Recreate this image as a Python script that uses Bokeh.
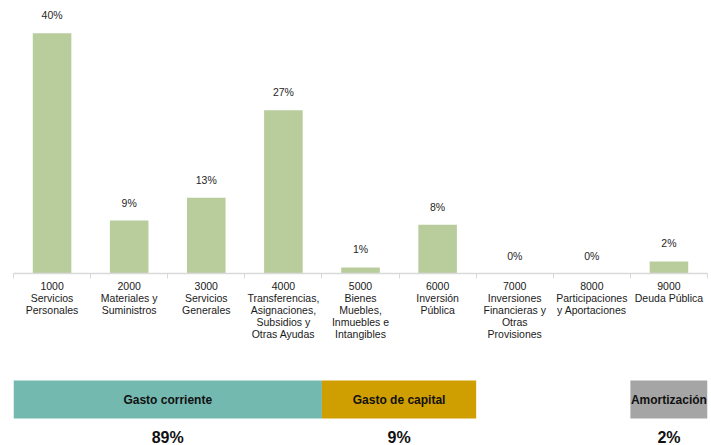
from bokeh.plotting import figure
from bokeh.layouts import column
from bokeh.models import Range1d, FixedTicker, ColumnDataSource
from bokeh.core.properties import value
from bokeh.embed import file_html
from bokeh.resources import INLINE

# ---- data ----
codes = ["1000", "2000", "3000", "4000", "5000", "6000", "7000", "8000", "9000"]
names = [
    "Servicios\nPersonales",
    "Materiales y\nSuministros",
    "Servicios\nGenerales",
    "Transferencias,\nAsignaciones,\nSubsidios y\nOtras Ayudas",
    "Bienes\nMuebles,\nInmuebles e\nIntangibles",
    "Inversión\nPública",
    "Inversiones\nFinancieras y\nOtras\nProvisiones",
    "Participaciones\ny Aportaciones",
    "Deuda Pública",
]
shares = [39.9, 8.8, 12.6, 27.1, 1.0, 8.1, 0.0, 0.0, 2.0]
share_labels = ["40%", "9%", "13%", "27%", "1%", "8%", "0%", "0%", "2%"]

group_names = ["Gasto corriente", "Gasto de capital", "Amortización"]
group_pct = ["89%", "9%", "2%"]
group_first = [0, 4, 8]   # index of first category in group
group_last = [3, 5, 8]    # index of last category in group
group_colors = ["#74b9b0", "#cf9e00", "#a5a5a5"]

FONT = "Liberation Sans"
W = 711
n = len(codes)
xs = [i + 0.5 for i in range(n)]

# ---- top chart ----
H1 = 355
p = figure(width=W, height=H1, x_range=Range1d(0, n), y_range=Range1d(0, 45.35),
           output_backend="svg", toolbar_location=None,
           min_border_left=13, min_border_right=4, min_border_top=0, min_border_bottom=82)
p.outline_line_color = None
p.grid.visible = False
p.yaxis.visible = False

src = ColumnDataSource(dict(x=xs, top=shares, lab=share_labels))
p.vbar(x="x", top="top", bottom=0, width=0.5, source=src,
       fill_color="#b9cc9c", line_color=None)
p.text(x="x", y="top", text="lab", source=src, text_align="center",
       text_baseline="alphabetic", y_offset=-18,
       text_font=value(FONT), text_font_size="10.5px", text_color="#262626")

ax = p.xaxis[0]
ax.ticker = FixedTicker(ticks=xs, minor_ticks=list(range(n + 1)))
ax.major_label_overrides = {x: f"{c}\n{nm}" for x, c, nm in zip(xs, codes, names)}
ax.major_tick_line_color = None
ax.major_tick_out = 0
ax.major_tick_in = 0
ax.minor_tick_line_color = "#d9d9d9"
ax.minor_tick_out = 5
ax.minor_tick_in = 0
ax.axis_line_color = "#d9d9d9"
ax.axis_line_width = 1.5
ax.major_label_standoff = 1
ax.major_label_text_font = FONT
ax.major_label_text_font_size = "10.5px"
ax.major_label_text_line_height = 1.02
ax.major_label_text_color = "#1a1a1a"
ax.major_label_orientation = "horizontal"

# ---- bottom strip ----
H2 = 90
q = figure(width=W, height=H2, x_range=Range1d(0, n), y_range=Range1d(H2, 0),
           output_backend="svg", toolbar_location=None,
           min_border_left=13, min_border_right=4, min_border_top=0, min_border_bottom=0)
q.outline_line_color = None
q.grid.visible = False
q.axis.visible = False

strip_top, strip_bot, pct_y = 25, 63, 82
gsrc = ColumnDataSource(dict(
    left=group_first, right=[g + 1 for g in group_last],
    mid=[(a + b + 1) / 2 for a, b in zip(group_first, group_last)],
    name=group_names, pct=group_pct, color=group_colors))
q.quad(left="left", right="right", top=strip_top, bottom=strip_bot, source=gsrc,
       fill_color="color", line_color=None)
q.text(x="mid", y=(strip_top + strip_bot) / 2, text="name", source=gsrc,
       text_align="center", text_baseline="middle",
       text_font=value(FONT), text_font_size="12px", text_font_style="bold",
       text_color="#111111")
q.text(x="mid", y=pct_y, text="pct", source=gsrc,
       text_align="center", text_baseline="middle",
       text_font=value(FONT), text_font_size="16px", text_font_style="bold",
       text_color="#111111")

layout = column(p, q, spacing=0)
open("out.html", "w").write(file_html(layout, INLINE))
